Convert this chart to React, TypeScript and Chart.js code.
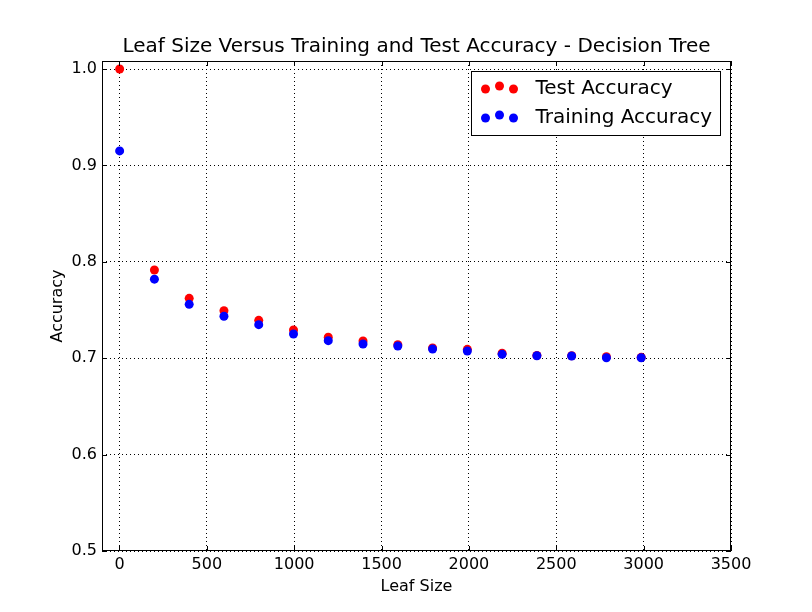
import { useEffect, useRef } from 'react';
import { Chart, ChartConfiguration, Plugin, registerables } from 'chart.js';

const leafSizes = [1, 200, 399, 598, 797, 996, 1195, 1394, 1593, 1792, 1991, 2190, 2389, 2588, 2787, 2986];
const testAccuracy = [1.0, 0.7915, 0.7621, 0.7493, 0.7393, 0.7293, 0.7217, 0.7178, 0.714, 0.7106, 0.7092, 0.7051, 0.7028, 0.7026, 0.7016, 0.7009];
const trainingAccuracy = [0.915, 0.782, 0.7559, 0.7435, 0.7348, 0.7251, 0.7182, 0.7147, 0.7127, 0.7095, 0.7075, 0.704, 0.7026, 0.7023, 0.7005, 0.7005];
const xTicks = [0, 500, 1000, 1500, 2000, 2500, 3000, 3500];
const yTicks = [0.5, 0.6, 0.7, 0.8, 0.9, 1.0];
const legendLabels = ['Test Accuracy', 'Training Accuracy'];
const legendColors = ['#ff0000', '#0000ff'];

const FONT = '"DejaVu Sans", sans-serif';

// frame, inward ticks, title and the three-dot legend (matplotlib style)
const decorations: Plugin = {
  id: 'decorations',
  afterDraw(chart) {
    const { ctx, chartArea: a, scales } = chart;
    ctx.save();
    ctx.strokeStyle = '#000';
    ctx.lineWidth = 1;
    ctx.strokeRect(a.left + 0.5, a.top + 0.5, a.right - a.left - 1, a.bottom - a.top - 1);
    ctx.beginPath();
    for (const v of xTicks) {
      const x = Math.round(scales.x.getPixelForValue(v)) + 0.5;
      ctx.moveTo(x, a.bottom); ctx.lineTo(x, a.bottom - 5);
      ctx.moveTo(x, a.top); ctx.lineTo(x, a.top + 5);
    }
    for (const v of yTicks) {
      const y = Math.round(scales.y.getPixelForValue(v)) + 0.5;
      ctx.moveTo(a.left, y); ctx.lineTo(a.left + 5, y);
      ctx.moveTo(a.right, y); ctx.lineTo(a.right - 5, y);
    }
    ctx.stroke();

    ctx.fillStyle = '#000';
    ctx.font = `20px ${FONT}`;
    ctx.textAlign = 'center';
    ctx.textBaseline = 'middle';
    ctx.fillText('Leaf Size Versus Training and Test Accuracy - Decision Tree', (a.left + a.right) / 2, 47);

    const bx = a.right - 259.5;
    const by = a.top + 10.5;
    ctx.fillStyle = '#fff';
    ctx.fillRect(bx, by, 249, 64);
    ctx.strokeRect(bx, by, 249, 64);
    ctx.font = `20px ${FONT}`;
    ctx.textAlign = 'left';
    legendLabels.forEach((label, i) => {
      const cy = by + 17.5 + i * 29;
      ctx.fillStyle = legendColors[i];
      [[14, 0], [28, -3], [42, 0]].forEach(([dx, dy]) => {
        ctx.beginPath();
        ctx.arc(bx + dx, cy + dy, 4.5, 0, Math.PI * 2);
        ctx.fill();
      });
      ctx.fillStyle = '#000';
      ctx.fillText(label, bx + 64, cy);
    });
    ctx.restore();
  },
};

export default function App() {
  const canvasRef = useRef<HTMLCanvasElement>(null);

  useEffect(() => {
    document.body.style.margin = '0';
    if (!canvasRef.current) return;
    Chart.register(...registerables);

    const config: ChartConfiguration = {
      type: 'scatter',
      data: {
        datasets: [
          {
            label: legendLabels[1],
            data: leafSizes.map((x, i) => ({ x, y: trainingAccuracy[i] })),
            backgroundColor: legendColors[1],
            borderWidth: 0,
            pointRadius: 4.5,
            order: 0,
          },
          {
            label: legendLabels[0],
            data: leafSizes.map((x, i) => ({ x, y: testAccuracy[i] })),
            backgroundColor: legendColors[0],
            borderWidth: 0,
            pointRadius: 4.5,
            order: 1,
          },
        ],
      },
      options: {
        responsive: false,
        animation: false,
        devicePixelRatio: 1,
        layout: { padding: { left: 48, top: 61, right: 81, bottom: 0 } },
        plugins: { legend: { display: false }, tooltip: { enabled: false }, title: { display: false } },
        scales: {
          x: {
            type: 'linear',
            min: -100,
            max: 3500,
            afterBuildTicks: (scale) => { scale.ticks = xTicks.map((value) => ({ value })); },
            afterFit: (scale) => { scale.height = 61; },
            border: { display: false, dash: [1, 3] },
            grid: { color: '#000', drawTicks: false },
            ticks: { color: '#000', font: { family: FONT, size: 16 }, padding: 4, maxRotation: 0, autoSkip: false, callback: (v) => String(v) },
            title: { display: true, text: 'Leaf Size', color: '#000', font: { family: FONT, size: 16 }, padding: { top: 0, bottom: 16 } },
          },
          y: {
            type: 'linear',
            min: 0.5,
            max: 1.0083,
            afterBuildTicks: (scale) => { scale.ticks = yTicks.map((value) => ({ value })); },
            afterFit: (scale) => { scale.width = 54; },
            border: { display: false, dash: [1, 3] },
            grid: { color: '#000', drawTicks: false },
            ticks: { color: '#000', font: { family: FONT, size: 16 }, padding: 5, callback: (v) => Number(v).toFixed(1) },
            title: { display: true, text: 'Accuracy', color: '#000', font: { family: FONT, size: 16 }, padding: 0 },
          },
        },
      },
      plugins: [decorations],
    };

    const chart = new Chart(canvasRef.current, config);
    return () => chart.destroy();
  }, []);

  return <canvas ref={canvasRef} width={812} height={612} style={{ display: 'block' }} />;
}
